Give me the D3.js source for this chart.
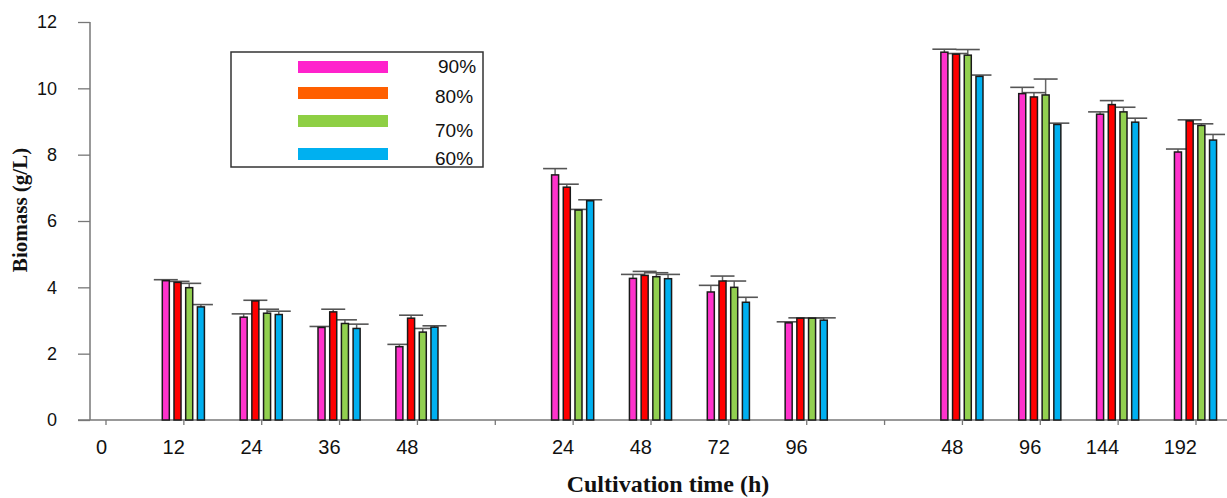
<!DOCTYPE html>
<html>
<head>
<meta charset="utf-8">
<script src="https://cdn.jsdelivr.net/npm/d3@7"></script>
<style>
  html, body { margin: 0; padding: 0; background: #fff; }
  svg { display: block; }
</style>
</head>
<body>
<svg id="chart" width="1227" height="498"></svg>
<script>
// ---- Data ----
const categories = ["0","12","24","36","48","","24","48","72","96","","48","96","144","192"];
const seriesNames = ["90%","80%","70%","60%"];
const v90 = [null,4.20,3.10,2.79,2.21,null,7.39,4.27,3.86,2.93,null,11.09,9.84,9.22,8.08];
const v80 = [null,4.15,3.59,3.26,3.07,null,7.02,4.36,4.19,3.07,null,11.03,9.74,9.51,9.02];
const v70 = [null,3.99,3.22,2.91,2.65,null,6.33,4.32,4.00,3.07,null,11.00,9.80,9.29,8.88];
const v60 = [null,3.41,3.18,2.76,2.80,null,6.61,4.26,3.55,3.01,null,10.36,8.91,8.98,8.44];
const e90 = [null,0.03,0.10,0.03,0.07,null,0.19,0.12,0.20,0.03,null,0.09,0.19,0.07,0.09];
const e80 = [null,0.03,0.02,0.08,0.09,null,0.09,0.12,0.15,0.01,null,0.02,0.13,0.12,0.03];
const e70 = [null,0.13,0.12,0.11,0.11,null,0.02,0.12,0.19,0.01,null,0.17,0.48,0.14,0.05];
const e60 = [null,0.07,0.10,0.13,0.04,null,0.03,0.13,0.15,0.07,null,0.04,0.04,0.12,0.17];
const yTicks = [0,2,4,6,8,10,12];
const barColors = ["#FF33CC","#FF0000","#92D050","#00B0F0"];
const legendColors = ["#FF22CC","#FF5F00","#8ECF44","#00B0F0"];
const yTitle = "Biomass (g/L)";
const xTitle = "Cultivation time (h)";

const values = [v90, v80, v70, v60];
const errors = [e90, e80, e70, e60];

// ---- Layout ----
const svg = d3.select("#chart");
const y0 = 420, yTop = 22;
const x = d3.scalePoint().domain(d3.range(categories.length)).range([105.5, 1195.5]);
const y = d3.scaleLinear().domain([0, 12]).range([y0, yTop]);
const x1 = d3.scaleBand().domain(d3.range(seriesNames.length)).range([-23.4, 23.4])
  .paddingInner(0.4).paddingOuter(0.2);

const axisColor = "#777";

// Y axis
const yAxis = svg.append("g").attr("transform", "translate(90,0)")
  .call(d3.axisLeft(y).tickValues(yTicks).tickFormat(d3.format("d")).tickSize(12).tickPadding(21));
yAxis.select(".domain").attr("stroke", axisColor).attr("stroke-width", 1.5)
  .attr("d", `M0,${y0}V${yTop}`);
yAxis.selectAll(".tick line").attr("stroke", axisColor).attr("stroke-width", 1.3);
yAxis.selectAll(".tick text").attr("fill", "#111")
  .style("font-family", "'Liberation Sans', Arial, sans-serif").style("font-size", "18px");

// X axis
const xAxis = svg.append("g").attr("transform", `translate(0,${y0})`)
  .call(d3.axisBottom(x).tickFormat(i => categories[i]).tickSize(5).tickSizeOuter(0));
xAxis.select(".domain").remove();
xAxis.selectAll(".tick line").attr("stroke", axisColor).attr("stroke-width", 1.3);
xAxis.selectAll(".tick text").attr("fill", "#111")
  .attr("text-anchor", "end").attr("x", 1).attr("y", 34).attr("dy", 0)
  .style("font-family", "'Liberation Sans', Arial, sans-serif").style("font-size", "20px");
svg.append("line").attr("x1", 78).attr("x2", 1227).attr("y1", y0).attr("y2", y0)
  .attr("stroke", axisColor).attr("stroke-width", 1.5);

// Bars
const bars = [];
values.forEach((arr, s) => arr.forEach((v, i) => {
  if (v !== null) bars.push({ s, i, v, e: errors[s][i] });
}));

const g = svg.append("g");
// error bar stems
g.selectAll("line.stem").data(bars).join("line").attr("class", "stem")
  .attr("x1", d => x(d.i) + x1(d.s) + x1.bandwidth() / 2)
  .attr("x2", d => x(d.i) + x1(d.s) + x1.bandwidth() / 2)
  .attr("y1", d => y(d.v)).attr("y2", d => y(d.v + d.e))
  .attr("stroke", "#666").attr("stroke-width", 1.5);
g.selectAll("line.cap").data(bars).join("line").attr("class", "cap")
  .attr("x1", d => x(d.i) + x1(d.s) + x1.bandwidth() / 2 - 12)
  .attr("x2", d => x(d.i) + x1(d.s) + x1.bandwidth() / 2 + 12)
  .attr("y1", d => y(d.v + d.e)).attr("y2", d => y(d.v + d.e))
  .attr("stroke", "#555").attr("stroke-width", 1.6);
g.selectAll("rect.bar").data(bars).join("rect").attr("class", "bar")
  .attr("x", d => x(d.i) + x1(d.s))
  .attr("width", x1.bandwidth())
  .attr("y", d => y(d.v))
  .attr("height", d => y0 - y(d.v))
  .attr("fill", d => barColors[d.s])
  .attr("stroke", "#1a1a1a").attr("stroke-width", 1.5);

// Legend
const lg = svg.append("g");
lg.append("rect").attr("x", 231).attr("y", 52).attr("width", 252).attr("height", 115)
  .attr("fill", "#fff").attr("stroke", "#333").attr("stroke-width", 1.5);
const swY = [61, 87, 115, 148];
const txY = [73, 103, 137, 165];
const txX = [438, 435, 435, 435];
seriesNames.forEach((n, s) => {
  lg.append("rect").attr("x", 298).attr("y", swY[s]).attr("width", 90).attr("height", 12)
    .attr("fill", legendColors[s]);
  lg.append("text").attr("x", txX[s]).attr("y", txY[s]).text(n)
    .attr("fill", "#111")
    .style("font-family", "'Liberation Sans', Arial, sans-serif").style("font-size", "19px");
});

// Titles
svg.append("text").attr("transform", "translate(27,210) rotate(-90)")
  .attr("text-anchor", "middle").text(yTitle)
  .style("font-family", "'Liberation Serif', 'Times New Roman', serif")
  .style("font-weight", "bold").style("font-size", "21px").attr("fill", "#111");
svg.append("text").attr("x", 668).attr("y", 492)
  .attr("text-anchor", "middle").text(xTitle)
  .style("font-family", "'Liberation Serif', 'Times New Roman', serif")
  .style("font-weight", "bold").style("font-size", "24px").attr("fill", "#111");
</script>
</body>
</html>
